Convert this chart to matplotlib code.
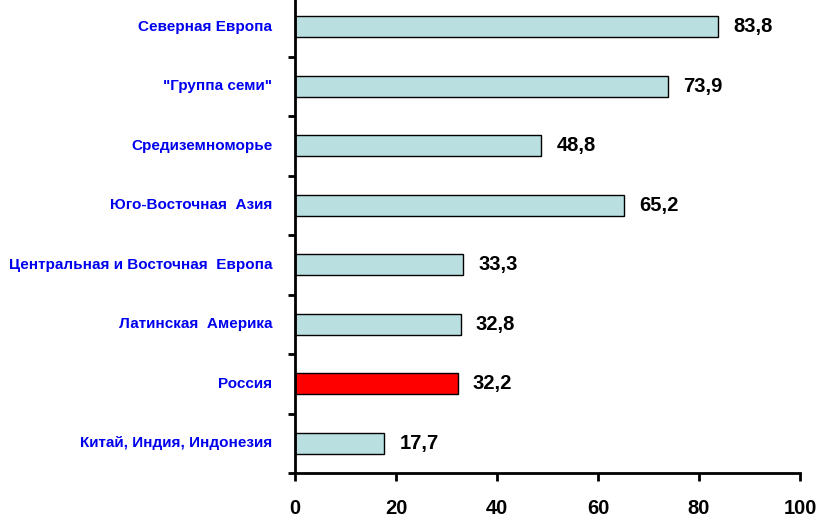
import matplotlib
matplotlib.use('Agg')
import matplotlib.pyplot as plt
import numpy as np

plt.rcParams['font.family'] = ['Liberation Sans', 'DejaVu Sans']

CATEGORIES = ['Северная Европа', '"Группа семи"', 'Средиземноморье',
              'Юго-Восточная  Азия', 'Центральная и Восточная  Европа',
              'Латинская  Америка', 'Россия', 'Китай, Индия, Индонезия']
VALUES = [83.8, 73.9, 48.8, 65.2, 33.3, 32.8, 32.2, 17.7]
HIGHLIGHT = 'Россия'
X_TICKS = [0, 20, 40, 60, 80, 100]

fig = plt.figure(figsize=(8.19, 5.17), dpi=100)
ax = fig.add_axes([295 / 819, 44 / 517, 505 / 819, 476 / 517])

n = len(CATEGORIES)
y = np.arange(n)[::-1]
colors = ['#ff0000' if c == HIGHLIGHT else '#b9dfe0' for c in CATEGORIES]
ax.barh(y, VALUES, height=0.36, color=colors, edgecolor='black', linewidth=1)

for yi, v in zip(y, VALUES):
    ax.text(v + 3, yi, f'{v:.1f}'.replace('.', ','), va='center', ha='left',
            fontsize=14.5, fontweight='bold', color='black')

ax.set_xlim(0, 100)
ax.set_ylim(-0.5, n - 0.5)
ax.set_xticks(X_TICKS)
ax.set_xticklabels([str(t) for t in X_TICKS], fontsize=14.5, fontweight='bold')
ax.tick_params(axis='x', direction='out', length=6, width=2, pad=13)

ax.set_yticks(np.arange(n + 1) - 0.5)
ax.set_yticklabels([])
ax.tick_params(axis='y', direction='out', length=5, width=2)
for yi, c in zip(y, CATEGORIES):
    ax.text(-4.5, yi, c, ha='right', va='center', fontsize=11,
            fontweight='bold', color='#0000ee', transform=ax.transData, clip_on=False)

for s in ['top', 'right']:
    ax.spines[s].set_visible(False)
ax.spines['left'].set_linewidth(2)
ax.spines['bottom'].set_linewidth(2)

fig.savefig('out.png', dpi=100)
